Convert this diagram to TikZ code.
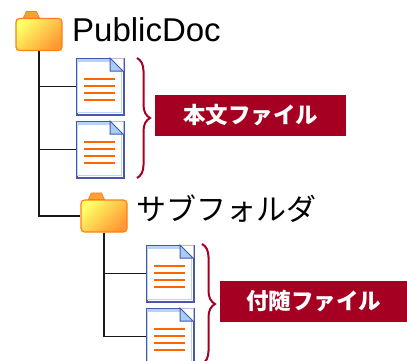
\documentclass[tikz,border=0pt]{standalone}
\usepackage{fontspec}
\setmainfont{Liberation Sans}
\newfontfamily\cjkfont{Noto Sans CJK JP}
\usetikzlibrary{positioning,calc,decorations.pathreplacing}
\definecolor{labelred}{HTML}{A50021}
\definecolor{docblue}{HTML}{4A55B0}
\definecolor{docpale}{HTML}{B4D4FA}
\definecolor{docfold}{HTML}{A6CFF8}
\definecolor{lineorange}{HTML}{FF6600}
\definecolor{folderedge}{HTML}{FF7F1A}
\definecolor{folderlight}{HTML}{FFFF66}
\definecolor{folderdark}{HTML}{FF9933}
\definecolor{foldertop}{HTML}{FFA033}
\tikzset{
  folder/.style={draw=folderedge, line width=1.2pt, rounded corners=3.5pt, inner sep=0pt,
    minimum width=46pt, minimum height=32pt,
    left color=folderlight, right color=folderdark, shading angle=45},
  folderlabel/.style={inner sep=0pt, anchor=base west, text=black},
  docfile/.style={draw=docblue, line width=1.5pt, fill=white, inner sep=0pt,
    minimum width=47pt, minimum height=56pt, anchor=north west},
  filelabel/.style={fill=labelred, text=white, inner sep=0pt, minimum width=191pt,
    minimum height=41pt, font=\cjkfont\bfseries\fontsize{22.5}{22.5}\selectfont},
  curly/.style={draw=labelred, line width=2pt,
    decorate, decoration={brace, amplitude=13pt, aspect=.5}},
  connector/.style={draw=black!90, line width=1.2pt}
}
% the small tab on top of a folder
\newcommand{\foldertab}[1]{
  \filldraw[draw=folderedge, fill=foldertop, line width=.8pt]
    ($(#1.north west)+(8,0)$) -- ($(#1.north west)+(11,-6.5)$) -- ($(#1.north west)+(21,-6.5)$) -- ($(#1.north west)+(24,0)$) -- cycle;
}
% the inside of a file: pale rim, four text lines, folded corner
\newcommand{\docinside}[1]{
  \coordinate (nw) at (#1.north west);
  \draw[docpale, line width=1.2pt] ($(nw)+(1.5,1.5)$) rectangle ($(nw)+(45.5,54.5)$);
  \fill[docpale] ($(nw)+(.8,.8)$) rectangle ($(nw)+(46.2,3.6)$);
  \foreach \y in {21,28,35,42}
    {\draw[lineorange, line width=2pt] ($(nw)+(8,\y)$) -- ($(nw)+(39,\y)$);}
  \fill[white] ($(nw)+(34,-.8)$) -- ($(nw)+(47.8,13)$) -- ($(nw)+(47.8,-.8)$) -- cycle;
  \draw[docblue!40, line width=.7pt] ($(nw)+(34,0)$) -- ($(nw)+(47,0)$) -- ($(nw)+(47,13)$);
  \filldraw[fill=docfold, draw=docblue, line width=1pt]
    ($(nw)+(34,0)$) -- ($(nw)+(47,13)$) -- ($(nw)+(34,13)$) -- cycle;
}
\begin{document}
\begin{tikzpicture}[x=1pt,y=-1pt]
  \useasboundingbox (0,0) rectangle (407,360);
  %the folders
  \node[folder] (rootfolder) at (39,34.5) {};
  \foldertab{rootfolder}
  \node[folder] (subfolder) at (104,216) {};
  \foldertab{subfolder}
  \node[folderlabel, font=\fontsize{33}{33}\selectfont] (rootname) at (72,41) {PublicDoc};
  \node[folderlabel, font=\cjkfont\fontsize{30}{30}\selectfont] (subname) at (136,220) {サブフォルダ};

  %the files
  \node[docfile] (docA) at (76,58) {};
  \node[docfile] (docB) at (76,121) {};
  \node[docfile] (docC) at (146,245) {};
  \node[docfile] (docD) at (146,308) {};
  \docinside{docA}
  \docinside{docB}
  \docinside{docC}
  \docinside{docD}

  %the tree
  \draw[connector] (rootfolder.south) |- (docA.west);
  \draw[connector] (rootfolder.south) |- (docB.west);
  \draw[connector] (rootfolder.south) |- (subfolder.west);
  \draw[connector] (subfolder.south) |- (docC.west);
  \draw[connector] (subfolder.south) |- (docD.west);

  %the braces
  \coordinate (bodytop) at (137,58);
  \coordinate (bodybot) at (137,178);
  \coordinate (sidetop) at (202,244);
  \coordinate (sidebot) at (202,364);
  \draw[curly] (bodytop) -- (bodybot);
  \draw[curly] (sidetop) -- (sidebot);

  %the labels
  \node[filelabel] (bodylabel) at (250.5,115.5) {本文ファイル};
  \node[filelabel, minimum width=187pt] (sidelabel) at (313.5,301.5) {付随ファイル};
\end{tikzpicture}
\end{document}
